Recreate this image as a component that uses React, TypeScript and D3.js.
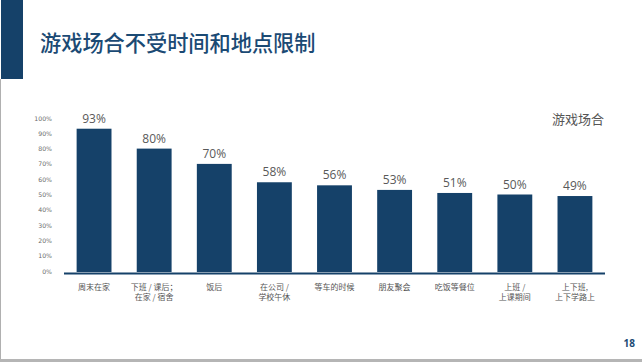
import { useEffect } from 'react';
import * as d3 from 'd3';

const categories = [
  '周末在家',
  '下班 / 课后；\n在家 / 宿舍',
  '饭后',
  '在公司 /\n学校午休',
  '等车的时候',
  '朋友聚会',
  '吃饭等餐位',
  '上班 /\n上课期间',
  '上下班,\n上下学路上',
];
const values = [93, 80, 70, 58, 56, 53, 51, 50, 49];
const yTicks = [0, 10, 20, 30, 40, 50, 60, 70, 80, 90, 100];

const title = '游戏场合不受时间和地点限制';
const legendLabel = '游戏场合';
const pageNumber = '18';

const W = 642;
const H = 362;
const navy = '#154169';
const cjk = '"Noto Sans CJK SC", "Noto Sans", sans-serif';

export default function App() {
  useEffect(() => {
    document.body.style.margin = '0';
  }, []);

  const x = d3.scaleBand<string>()
    .domain(categories)
    .range([64, 605])
    .paddingInner(0.42)
    .paddingOuter(0.21);

  const y = d3.scaleLinear()
    .domain([0, 100])
    .range([271, 118]);

  return (
    <svg width={W} height={H} style={{ display: 'block', background: '#fff' }}>
      {/* slide decoration */}
      <rect x={1} y={0} width={22} height={79} fill={navy} />
      <line x1={0.5} x2={0.5} y1={79} y2={H} stroke="#b0b0b0" strokeWidth={1} />
      <rect x={0} y={359} width={W} height={3} fill="#b5b5b5" />
      <text x={40} y={51} fontFamily={cjk} fontSize={21.2} fill="#1b4a74" fontWeight={500}>
        {title}
      </text>
      <text x={635} y={347} textAnchor="end" fontFamily='"Open Sans", sans-serif' fontSize={10} fontWeight={700} fill="#1b4a74">
        {pageNumber}
      </text>

      {/* legend label */}
      <text x={552} y={124} fontFamily={cjk} fontSize={13} fill="#555">
        {legendLabel}
      </text>

      {/* y axis tick labels */}
      {yTicks.map(t => (
        <text key={t} x={52} y={y(t) + 2.5} textAnchor="end" fontFamily='"DejaVu Sans", sans-serif' fontSize={6.2} fill="#6a6a6a">
          {t}%
        </text>
      ))}

      {/* bars */}
      {categories.map((c, i) => (
        <g key={c}>
          <rect
            x={x(c)}
            y={y(values[i])}
            width={x.bandwidth()}
            height={y(0) - y(values[i]) + 1}
            fill={navy}
          />
          <text
            x={(x(c) as number) + x.bandwidth() / 2}
            y={y(values[i]) - 6}
            textAnchor="middle"
            fontFamily='"Open Sans", sans-serif'
            fontSize={12}
            fill="#595959"
          >
            {values[i]}%
          </text>
          {c.split('\n').map((line, j) => (
            <text
              key={j}
              x={(x(c) as number) + x.bandwidth() / 2}
              y={290 + j * 9.5}
              textAnchor="middle"
              fontFamily={cjk}
              fontSize={8}
              fill="#555"
            >
              {line}
            </text>
          ))}
        </g>
      ))}

      {/* baseline */}
      <line x1={64} x2={605} y1={273.5} y2={273.5} stroke={navy} strokeWidth={2.2} />
    </svg>
  );
}
